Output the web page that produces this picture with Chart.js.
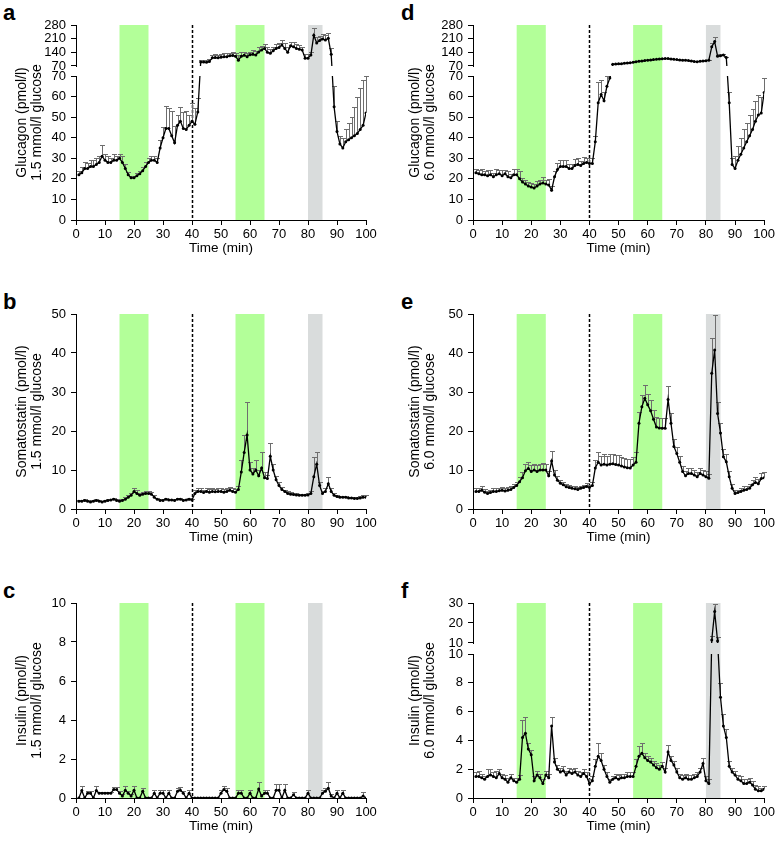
<!DOCTYPE html>
<html>
<head>
<meta charset="utf-8">
<title>Glucagon, somatostatin and insulin secretion</title>
<script src="https://cdn.jsdelivr.net/npm/chart.js@4.4.1/dist/chart.umd.min.js"></script>
<style>
  body { margin: 0; background: #fff; width: 777px; height: 845px; position: relative; overflow: hidden;
         font-family: "Liberation Sans", Arial, sans-serif; }
  canvas { position: absolute; }
  .tag { position: absolute; font-weight: bold; font-size: 22px; line-height: 22px; color: #000; }
</style>
</head>
<body>
<div class="tag" style="left:3px;top:2px">a</div>
<div class="tag" style="left:3px;top:291px">b</div>
<div class="tag" style="left:3px;top:580px">c</div>
<div class="tag" style="left:401px;top:2px">d</div>
<div class="tag" style="left:401px;top:291px">e</div>
<div class="tag" style="left:401px;top:580px">f</div>

<canvas id="pa" width="385" height="289" style="left:0;top:0"></canvas>
<canvas id="pb" width="385" height="289" style="left:0;top:289px"></canvas>
<canvas id="pc" width="385" height="267" style="left:0;top:578px"></canvas>
<canvas id="pd" width="380" height="289" style="left:397px;top:0"></canvas>
<canvas id="pe" width="380" height="289" style="left:397px;top:289px"></canvas>
<canvas id="pf" width="380" height="267" style="left:397px;top:578px"></canvas>

<script>
// --- data (min / pmol/l), mean and upper SEM ---
const minutes = [1,2,3,4,5,6,7,8,9,10,11,12,13,14,15,16,17,18,19,20,
  21,22,23,24,25,26,27,28,29,30,31,32,33,34,35,36,37,38,39,40,
  41,42,43,44,45,46,47,48,49,50,51,52,53,54,55,56,57,58,59,60,
  61,62,63,64,65,66,67,68,69,70,71,72,73,74,75,76,77,78,79,80,
  81,82,83,84,85,86,87,88,89,90,91,92,93,94,95,96,97,98,99,100];

const argininePulses = [[15, 25], [55, 65]];
const controlPulse = [80, 85];
const glucoseSwitch = 40;

const xTicks = [0,10,20,30,40,50,60,70,80,90,100];

// a: glucagon, 1.5 mmol/l glucose
const glucagonLow = [22,23,25,25,26,26,27,28,31,29,
  28,28,29,29,30,28,25,22,20.5,20.5,
  21.5,22.5,24,26,28,29,29,28,35,40,
  44.5,44.5,41,37.5,46,48,44.5,44,46,48,
  46.5,52.5,90,90,89,93,112,113,112,115,
  117,118,122,124,120,100,120,125,118,128,
  130,126,142,152,160,140,135,148,160,165,
  177,160,140,174,168,160,156,152,110,110,
  126,228,188,200,208,203,212,130,55,43,
  37,35,38,39,40,41,42,44,46,52];
const glucagonLowErr = [2,3,3,2.5,3,3,3,3,5.5,3,
  3,2,3,2,2,3,2,1.5,1,1,
  1.5,1.5,2,2,2,2,2,2,4,5,
  11,10,12,8,5,7,8,9,5,9,
  8,7,12,10,10,14,15,18,14,16,
  18,20,16,18,16,25,20,15,20,16,
  20,22,25,20,24,25,22,20,25,22,
  25,28,25,20,25,22,20,16,20,20,
  16,37,30,25,25,25,28,30,10,5,
  4,5,6,8,10,14,18,20,22,18];

// b: somatostatin, 1.5 mmol/l glucose
const somatostatinLow = [2,2,2.2,2,1.8,2,2.2,2,1.8,2,
  2.2,2.3,2.5,2.2,2,2.2,2.5,3,3.5,4.5,
  4,3.5,3.8,4,4,3.8,3,2.5,2.2,2.2,
  2.5,2.3,2.3,2.2,2.5,2.5,2.2,2.3,2.5,2.3,
  4,4.5,4.5,4.2,4.5,4.3,4.5,4.4,4.5,4.5,
  4.3,4.5,4.8,4.5,4.3,5,9.5,14.5,19,10,
  9,10,8.5,10.5,8,7.8,13.5,10,7.5,6,
  5,4.5,4,3.8,3.7,3.6,3.5,3.5,3.5,3.6,
  4,8.3,11.5,6,4,4.5,6.5,4.5,3.5,3.2,
  3,3,3,2.8,2.8,2.7,2.7,2.8,3,3];
const somatostatinLowErr = [0.4,0.3,0.4,0.3,0.3,0.4,0.3,0.3,0.3,0.3,
  0.4,0.3,0.4,0.3,0.3,0.4,0.5,0.6,0.6,1,
  0.8,0.6,0.6,0.7,0.6,0.5,0.5,0.4,0.3,0.3,
  0.4,0.3,0.3,0.3,0.4,0.4,0.3,0.3,0.4,0.3,
  1,0.8,0.9,0.8,0.8,0.8,0.9,0.8,0.8,0.9,
  0.8,0.8,0.9,0.8,0.8,1,3,4.5,8.5,2,
  1.5,2.5,1.5,4,1.5,1,3.5,1.5,1,0.8,
  0.6,0.5,0.5,0.5,0.4,0.4,0.4,0.4,0.4,0.5,
  0.6,5,3,1,0.6,0.8,1.8,0.8,0.6,0.5,
  0.4,0.4,0.4,0.4,0.4,0.4,0.4,0.5,0.5,0.5];

// c: insulin, 1.5 mmol/l glucose
const insulinLow = [0,0.38,0,0.25,0.25,0,0.38,0.25,0.25,0.25,
  0.25,0.25,0.43,0.43,0.25,0.1,0.4,0.25,0.1,0.4,
  0,0,0.35,0,0,0,0.25,0,0.25,0.25,
  0,0.25,0,0,0.35,0.4,0.25,0,0.25,0,
  0,0,0,0,0,0,0,0,0,0.25,
  0.43,0.35,0,0,0,0.25,0.25,0,0,0.25,
  0,0,0.46,0.1,0.25,0.25,0,0,0.4,0.4,
  0,0.4,0,0,0.17,0,0,0,0,0.25,
  0,0,0,0,0.25,0.35,0.5,0.1,0,0.25,
  0,0.25,0,0,0,0,0,0,0.1,0];
const insulinLowErr = [0,0.25,0,0.1,0.1,0,0.22,0.05,0.05,0.05,
  0.05,0.05,0.12,0.12,0.1,0.1,0.2,0.1,0.1,0.2,
  0,0,0.15,0,0,0,0.15,0,0.15,0.15,
  0,0.15,0,0,0.15,0.15,0.1,0,0.15,0,
  0,0,0,0,0,0,0,0,0,0.15,
  0.17,0.15,0,0,0,0.15,0.15,0,0,0.15,
  0,0,0.34,0.1,0.15,0.15,0,0,0.3,0.3,
  0,0.3,0,0,0.13,0,0,0,0,0.15,
  0,0,0,0,0.15,0.15,0.3,0.1,0,0.15,
  0,0.15,0,0,0,0,0,0,0.2,0];

// d: glucagon, 6.0 mmol/l glucose
const glucagonHigh = [23,22.5,22,22,21.5,22,21,22,22.5,21.5,
  22.5,21,20.5,22,22,20,18.5,17.5,16.5,16,
  15.5,16.5,17.5,18,17.5,17,14.5,21,24.5,26,
  26,26,25,25,26.5,27,26.5,27.5,28,27.5,
  27.5,38,57,61,58,65,69,79,80,81,
  82,84,85,87,89,92,94,96,98,100,
  101,103,104,106,107,108,108,106,104,103,
  101,100,100,98,96,93,92,94,96,97,
  100,168,195,120,122,126,113,57,27,25,
  29,32,35,38,41,44,48,51,52,62];
const glucagonHighErr = [2,2,3,2,3,2.5,2,3,2,3,
  2,3,2,3,3,4,2,2,2,2,
  2,2.5,2,3,2,3,2,3,3,3,
  3,3,2,2,3,3,2,3,2,2.5,
  2.5,3,10,7,4,5,3,2,1.5,1.5,
  1.5,1.5,1.5,1.5,1.5,1.5,1.5,1.5,1.5,1.5,
  1.5,1.5,1.5,1.5,1.5,1.5,1.5,1.5,1.5,1.5,
  1.5,1.5,1.5,1.5,1.5,1.5,1.5,1.5,1.5,2,
  3,18,25,8,8,6,5,5,3,6,
  7,8,9,9,10,10,10,10,8,7];

// e: somatostatin, 6.0 mmol/l glucose
const somatostatinHigh = [4.5,4.5,4.8,4.3,4,4.2,4.5,4.5,4.7,4.8,
  4.6,4.8,5,5.5,6,7,8,9.8,10.4,9.6,
  10,9.6,10,10,10,8.5,12.3,8.7,7.4,6.6,
  6.2,5.7,5.5,5.3,5.2,5,5.3,5.5,5.8,5.5,
  6,10.5,12,11.3,11.5,11.3,11.5,11.6,11.4,11.3,
  11,10.8,10.6,10.5,11.3,12,22,26.2,28.4,26.7,
  25.2,23,21,20.8,20.7,20.7,28.1,22,16,14.2,
  12,9.6,8.5,9.1,9.1,8.7,8.3,9.1,8.7,8.3,
  7.9,34.8,40.8,24.5,19.5,13.4,12.1,8.3,5.3,4,
  4.2,4.5,4.8,5,5.3,6.2,6.8,6.5,7.8,8];
const somatostatinHighErr = [1,0.8,1,0.8,0.6,0.8,0.8,1,0.8,0.8,
  0.8,0.8,0.8,0.8,1,1.2,1.5,1.8,1.7,1.6,
  1.5,1.8,1.6,1.7,1.6,1.2,2.6,1.2,1,0.8,
  0.8,0.7,0.6,0.6,0.6,0.6,0.6,0.7,0.8,0.7,
  1,2,2.6,2.4,2.5,2.4,2.5,2.6,2.4,2.5,
  2.3,2.2,2.2,2.2,2,2.5,3,3,3.4,2.8,
  2.8,2.5,2.5,2.6,2.6,2.7,3.4,2.5,2,1.8,
  1.5,1.4,1.2,1.5,1.3,1.4,1.3,1.5,1.3,1.5,
  1.2,9,9,3,2.5,2,2,1.5,1,0.8,
  0.8,0.8,1,1,1,1.2,1.3,1.2,1.5,1.5];

// f: insulin, 6.0 mmol/l glucose
const insulinHigh = [1.5,1.5,1.4,1.3,1.5,1.6,1.5,1.4,1.7,1.4,
  1.3,1.1,1.4,1.2,1.1,1.3,4.2,4.5,3.4,3,
  1.2,1.6,1.4,1,1.6,1.4,5,2.5,2,1.8,
  1.9,1.6,1.8,1.7,1.8,1.6,1.5,1.7,1.5,1,
  1.2,2.2,2.9,2.6,2,1.5,1.1,1.3,1.4,1.3,
  1.4,1.4,1.5,1.5,1.5,2.2,2.9,3.1,2.8,2.6,
  2.5,2.3,2.1,2,2.2,1.8,3.2,2.6,2.3,1.8,
  1.4,1.3,1.4,1.3,1.3,1.4,1.5,1.8,2.4,1.2,
  1,11.5,25.7,11,7,5,4.2,2.2,1.8,1.6,
  1.3,1.2,1,1,1.1,0.9,0.6,0.5,0.5,0.6];
const insulinHighErr = [0.3,0.4,0.3,0.2,0.5,0.4,0.3,0.5,0.3,0.3,
  0.3,0.3,0.3,0.2,0.3,0.3,1.2,1.1,0.4,0.3,
  0.3,0.3,0.3,0.3,0.3,0.3,0.6,0.3,0.3,0.3,
  0.3,0.3,0.3,0.3,0.3,0.3,0.3,0.3,0.3,0.3,
  0.3,0.5,0.9,0.5,0.3,0.3,0.2,0.2,0.3,0.3,
  0.3,0.3,0.3,0.3,0.3,0.5,0.7,0.7,0.3,0.3,
  0.3,0.3,0.3,0.3,0.3,0.3,0.5,0.3,0.3,0.3,
  0.3,0.3,0.3,0.3,0.3,0.3,0.3,0.3,0.4,0.3,
  0.3,2,4,2,1,0.8,0.6,0.4,0.3,0.3,
  0.3,0.3,0.3,0.3,0.3,0.3,0.3,0.3,0.2,0.2];

// y tick labels (upper-segment ticks of a broken axis sit just above the break value)
const glucagonTicks = [0,10,20,30,40,50,60,70,70.001,140,210,280];
const somatostatinTicks = [0,10,20,30,40,50];
const insulinLowTicks = [0,2,4,6,8,10];
const insulinHighTicks = [0,2,4,6,8,10,10.001,20,30];

// --- broken linear axis: lower part, small gap, compressed upper part ---
class BrokenLinearScale extends Chart.LinearScale {
  getPixelForValue(value) {
    const b = this.brk;
    if (!b || value === null || value === undefined || isNaN(value)) return super.getPixelForValue(value);
    let dec;
    if (value <= b.low) dec = (value - this.min) / (b.low - this.min) * b.lowShare;
    else dec = b.lowShare + b.gapShare + (value - b.high) / (this.max - b.high) * (1 - b.lowShare - b.gapShare);
    return this.getPixelForDecimal(dec);
  }
  getValueForPixel(pixel) {
    const b = this.brk;
    if (!b) return super.getValueForPixel(pixel);
    const dec = this.getDecimalForPixel(pixel);
    if (dec <= b.lowShare) return this.min + dec / b.lowShare * (b.low - this.min);
    return b.high + (dec - b.lowShare - b.gapShare) / (1 - b.lowShare - b.gapShare) * (this.max - b.high);
  }
}
BrokenLinearScale.id = 'brokenLinear';
BrokenLinearScale.defaults = {};
Chart.register(BrokenLinearScale);

Chart.defaults.font.family = '"Liberation Sans", Arial, sans-serif';
Chart.defaults.color = '#000';

const PLOT_TOP = 25, PLOT_BOTTOM = 220, X_AXIS_H = 42, Y_AXIS_W = 76;

// shaded pulses, glucose switch, SEM bars and the clipped break
function panelDecor(p) {
  return {
    id: 'panelDecor',
    beforeDatasetsDraw(chart) {
      const { ctx, chartArea: ca, scales: { x, y } } = chart;
      ctx.save();
      ctx.fillStyle = '#b3ff99';
      argininePulses.forEach(([a, b]) => {
        const x0 = x.getPixelForValue(a), x1 = x.getPixelForValue(b);
        ctx.fillRect(x0, ca.top, x1 - x0, ca.bottom - ca.top);
      });
      ctx.fillStyle = '#d9dcdc';
      const g0 = x.getPixelForValue(controlPulse[0]), g1 = x.getPixelForValue(controlPulse[1]);
      ctx.fillRect(g0, ca.top, g1 - g0, ca.bottom - ca.top);

      const xs = Math.round(x.getPixelForValue(glucoseSwitch)) + 0.5;
      ctx.strokeStyle = '#000';
      ctx.lineWidth = 1.5;
      ctx.setLineDash([3, 2]);
      ctx.beginPath(); ctx.moveTo(xs, ca.top); ctx.lineTo(xs, ca.bottom); ctx.stroke();
      ctx.restore();

      ctx.save();
      if (p.brk) {
        const gapTop = y.getPixelForValue(p.brk.high + 1e-6);
        const gapBot = y.getPixelForValue(p.brk.low);
        ctx.beginPath();
        ctx.rect(ca.left - 10, ca.top - 10, ca.right - ca.left + 20, gapTop - ca.top + 10);
        ctx.rect(ca.left - 10, gapBot, ca.right - ca.left + 20, ca.bottom - gapBot + 10);
        ctx.clip();
      }
      ctx.strokeStyle = '#6e6e6e';
      ctx.lineWidth = 1;
      minutes.forEach((m, i) => {
        const e = p.err[i];
        if (!e) return;
        const px = Math.round(x.getPixelForValue(m)) + 0.5;
        const y0 = y.getPixelForValue(p.values[i]);
        const y1 = Math.round(y.getPixelForValue(p.values[i] + e)) + 0.5;
        ctx.beginPath();
        ctx.moveTo(px, y0); ctx.lineTo(px, y1);
        ctx.moveTo(px - 2.5, y1); ctx.lineTo(px + 2.5, y1);
        ctx.stroke();
      });
    },
    afterDatasetsDraw(chart) {
      chart.ctx.restore();
    },
    afterDraw(chart) {
      if (!p.brk) return;
      const { ctx, chartArea: ca, scales: { y } } = chart;
      const gapTop = Math.round(y.getPixelForValue(p.brk.high + 1e-6));
      const gapBot = Math.round(y.getPixelForValue(p.brk.low));
      ctx.save();
      ctx.fillStyle = '#fff';
      ctx.fillRect(ca.left - 1, gapTop + 1, 3, gapBot - gapTop - 1);
      ctx.restore();
    }
  };
}

function drawPanel(p) {
  const cv = document.getElementById(p.canvas);
  new Chart(cv, {
    type: 'line',
    data: {
      datasets: [{
        data: minutes.map((m, i) => ({ x: m, y: p.values[i] })),
        borderColor: '#000',
        borderWidth: 1.3,
        pointRadius: 1.5,
        pointBackgroundColor: '#000',
        pointBorderWidth: 0,
        tension: 0
      }]
    },
    options: {
      responsive: false,
      animation: false,
      events: [],
      layout: { padding: { left: 0, top: PLOT_TOP, right: p.padRight, bottom: cv.height - PLOT_BOTTOM - X_AXIS_H } },
      plugins: { legend: { display: false }, tooltip: { enabled: false } },
      scales: {
        x: {
          type: 'linear', min: 0, max: 100,
          afterBuildTicks: s => { s.ticks = xTicks.map(v => ({ value: v })); },
          afterFit: s => { s.height = X_AXIS_H; },
          ticks: { font: { size: 13 }, padding: 2, autoSkip: false, maxRotation: 0 },
          grid: { drawOnChartArea: false, color: '#000', tickLength: 5 },
          border: { color: '#000', width: 1 },
          title: { display: true, text: 'Time (min)', font: { size: 13.5 }, padding: { top: 0, bottom: 5.5 } }
        },
        y: {
          type: 'brokenLinear', min: 0, max: p.yMax,
          afterDataLimits: s => { s.brk = p.brk; },
          afterBuildTicks: s => { s.ticks = p.yTicks.map(v => ({ value: v })); },
          afterFit: s => { s.width = Y_AXIS_W; },
          ticks: { font: { size: 13 }, padding: 5, autoSkip: false, callback: v => String(Math.round(v)) },
          grid: { drawOnChartArea: false, color: '#000', tickLength: 5 },
          border: { color: '#000', width: 1 },
          title: { display: true, text: p.title, font: { size: 14, lineHeight: 1.1 }, padding: { top: p.titlePad, bottom: 0 } }
        }
      }
    },
    plugins: [panelDecor(p)]
  });
}

const glucagonBreak = { low: 70, high: 70, lowShare: 144 / 195, gapShare: 10 / 195 };
const insulinBreak = { low: 10, high: 10, lowShare: 144 / 195, gapShare: 11 / 195 };

const panels = [
  { canvas: 'pa', values: glucagonLow, err: glucagonLowErr, yMax: 280, yTicks: glucagonTicks, brk: glucagonBreak,
    title: ['Glucagon (pmol/l)', '1.5 mmol/l glucose'], padRight: 19, titlePad: 14 },
  { canvas: 'pb', values: somatostatinLow, err: somatostatinLowErr, yMax: 50, yTicks: somatostatinTicks, brk: null,
    title: ['Somatostatin (pmol/l)', '1.5 mmol/l glucose'], padRight: 19, titlePad: 14 },
  { canvas: 'pc', values: insulinLow, err: insulinLowErr, yMax: 10, yTicks: insulinLowTicks, brk: null,
    title: ['Insulin (pmol/l)', '1.5 mmol/l glucose'], padRight: 19, titlePad: 14 },
  { canvas: 'pd', values: glucagonHigh, err: glucagonHighErr, yMax: 280, yTicks: glucagonTicks, brk: glucagonBreak,
    title: ['Glucagon (pmol/l)', '6.0 mmol/l glucose'], padRight: 11, titlePad: 10 },
  { canvas: 'pe', values: somatostatinHigh, err: somatostatinHighErr, yMax: 50, yTicks: somatostatinTicks, brk: null,
    title: ['Somatostatin (pmol/l)', '6.0 mmol/l glucose'], padRight: 11, titlePad: 10 },
  { canvas: 'pf', values: insulinHigh, err: insulinHighErr, yMax: 30, yTicks: insulinHighTicks, brk: insulinBreak,
    title: ['Insulin (pmol/l)', '6.0 mmol/l glucose'], padRight: 11, titlePad: 10 }
];

panels.forEach(drawPanel);
</script>
</body>
</html>
